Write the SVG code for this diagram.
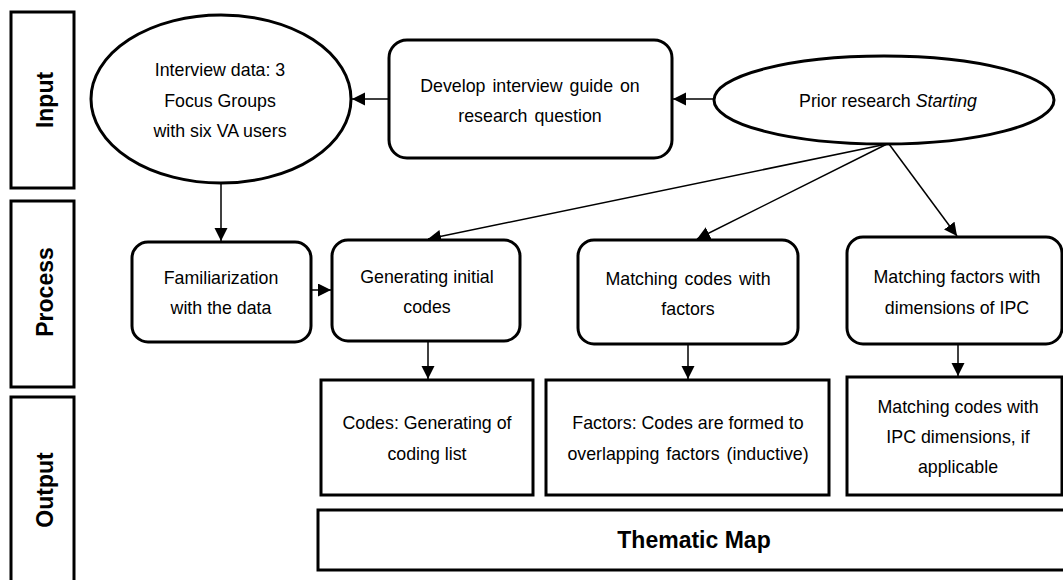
<svg xmlns="http://www.w3.org/2000/svg" width="1063" height="580" viewBox="0 0 1063 580">
<style>
.b{fill:#fff;stroke:#000;stroke-width:3}
.t{font-family:"Liberation Sans",Arial,sans-serif;font-size:17.8px;fill:#000;text-anchor:middle}
.lb{font-family:"Liberation Sans",Arial,sans-serif;font-size:23px;font-weight:bold;fill:#000;text-anchor:middle}
.c{stroke:#000;stroke-width:1.5;fill:none;marker-end:url(#ah)}
</style>
<defs>
<marker id="ah" markerUnits="userSpaceOnUse" markerWidth="14" markerHeight="14" refX="13" refY="6.5" orient="auto">
<path d="M0,0 L13,6.5 L0,13 z" fill="#000"/>
</marker>
</defs>
<rect width="1063" height="580" fill="#fff"/>
<g id="lbl-input"><rect class="b" x="11" y="12" width="63" height="176"/><text class="lb" transform="translate(53,100) rotate(-90)">Input</text></g>
<g id="lbl-process"><rect class="b" x="11" y="201" width="63" height="186"/><text class="lb" transform="translate(53,292) rotate(-90)">Process</text></g>
<g id="lbl-output"><rect class="b" x="11" y="397" width="63" height="190"/><text class="lb" transform="translate(53,490) rotate(-90)">Output</text></g>
<g id="connectors">
<line class="c" x1="713" y1="99" x2="673" y2="99"/>
<line class="c" x1="389" y1="99" x2="352" y2="99"/>
<line class="c" x1="221" y1="183" x2="221" y2="241"/>
<line class="c" x1="311" y1="290" x2="331" y2="290"/>
<line class="c" x1="887" y1="144" x2="428" y2="239"/>
<line class="c" x1="887" y1="144" x2="697" y2="239"/>
<line class="c" x1="889" y1="144" x2="957" y2="236"/>
<line class="c" x1="428" y1="341" x2="428" y2="379"/>
<line class="c" x1="688" y1="344" x2="688" y2="379"/>
<line class="c" x1="958" y1="344" x2="958" y2="376"/>
</g>
<g id="interview"><ellipse class="b" cx="221" cy="99" rx="130" ry="84"/>
<text class="t" x="220" y="76">Interview data: 3</text>
<text class="t" x="220" y="107">Focus Groups</text>
<text class="t" x="220" y="137">with six VA users</text></g>
<g id="develop"><rect class="b" x="389" y="40" width="283" height="118" rx="18"/>
<text class="t" x="530" y="92" word-spacing="2">Develop interview guide on</text>
<text class="t" x="530" y="122" word-spacing="2">research question</text></g>
<g id="prior"><ellipse class="b" cx="884" cy="100" rx="170" ry="44"/>
<text class="t" x="888" y="107">Prior research <tspan font-style="italic">Starting</tspan></text></g>
<g id="familiarization"><rect class="b" x="132" y="242" width="179" height="100" rx="16"/>
<text class="t" x="221" y="284">Familiarization</text>
<text class="t" x="221" y="314">with the data</text></g>
<g id="generating"><rect class="b" x="332" y="240" width="188" height="101" rx="16"/>
<text class="t" x="427" y="283">Generating initial</text>
<text class="t" x="427" y="313">codes</text></g>
<g id="matching-codes"><rect class="b" x="578" y="240" width="220" height="104" rx="16"/>
<text class="t" x="688" y="285" word-spacing="2">Matching codes with</text>
<text class="t" x="688" y="315">factors</text></g>
<g id="matching-factors"><rect class="b" x="847" y="237" width="215" height="107" rx="16"/>
<text class="t" x="957" y="283">Matching factors with</text>
<text class="t" x="957" y="314">dimensions of IPC</text></g>
<g id="codes"><rect class="b" x="321" y="380" width="212" height="115"/>
<text class="t" x="427" y="429">Codes: Generating of</text>
<text class="t" x="427" y="460">coding list</text></g>
<g id="factors"><rect class="b" x="546" y="380" width="283" height="115"/>
<text class="t" x="688" y="429">Factors: Codes are formed to</text>
<text class="t" x="688" y="460" word-spacing="2">overlapping factors (inductive)</text></g>
<g id="ipc"><rect class="b" x="847" y="377" width="215" height="118"/>
<text class="t" x="958" y="413">Matching codes with</text>
<text class="t" x="958" y="443">IPC dimensions, if</text>
<text class="t" x="958" y="473">applicable</text></g>
<g id="thematic"><rect class="b" x="318" y="510" width="750" height="60"/>
<text class="lb" x="694" y="548">Thematic Map</text></g>
</svg>
